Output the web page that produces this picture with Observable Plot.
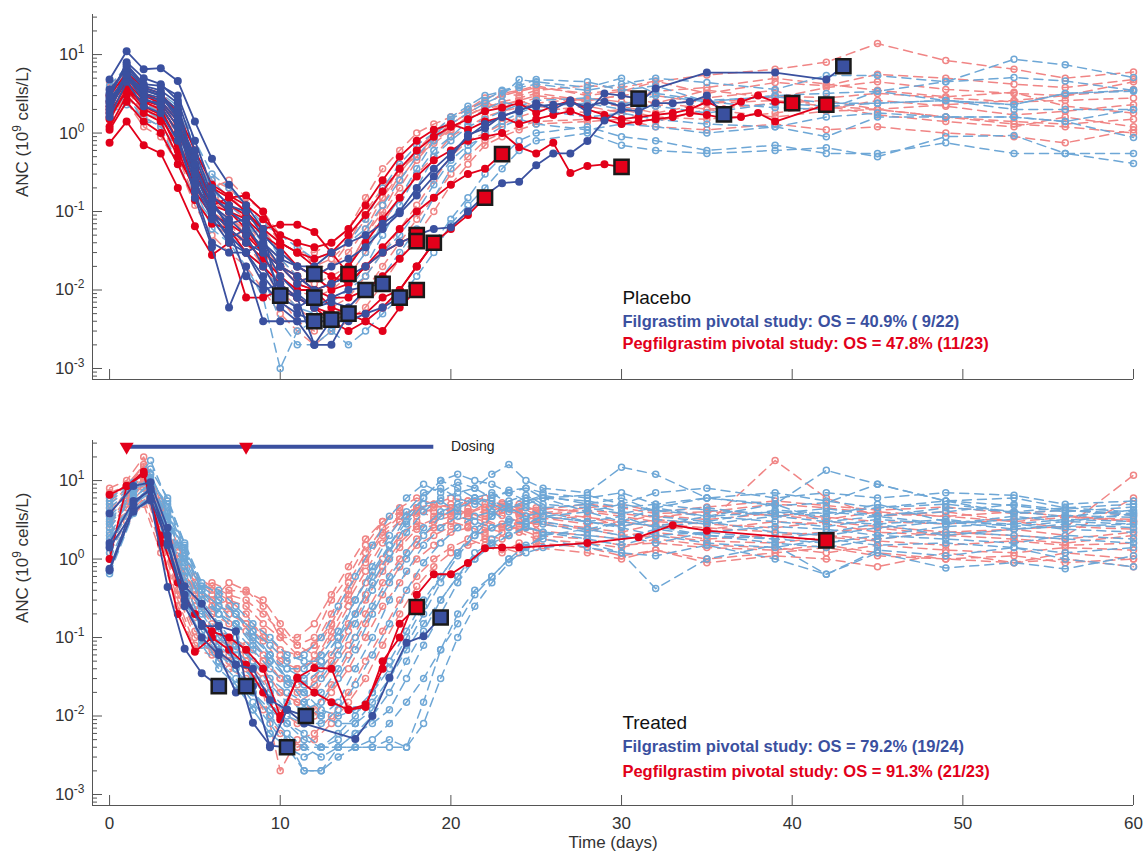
<!DOCTYPE html>
<html>
<head>
<meta charset="utf-8">
<script src="https://cdn.jsdelivr.net/npm/d3@7"></script>
<script src="https://cdn.jsdelivr.net/npm/@observablehq/plot@0.6"></script>
<style>
  html, body { margin: 0; padding: 0; background: #fff; overflow: hidden; }
  #chart svg { display: block; }
</style>
</head>
<body>
<div id="chart"></div>
<script>
// ---------------- DATA ----------------
// Axis settings / tick labels
const xDomain = [-1, 60];
const yDomain = [0.000724, 32.4];
const xTickValues = [0, 10, 20, 30, 40, 50, 60];
const yMajorTicks = [0.001, 0.01, 0.1, 1, 10];
const yAxisTitle = "ANC (10^{9} cells/L)";
const xAxisTitle = "Time (days)";

// Annotations
const placeboNotes = ["Placebo", "Filgrastim pivotal study: OS = 40.9% ( 9/22)", "Pegfilgrastim pivotal study: OS = 47.8% (11/23)"];
const treatedNotes = ["Treated", "Filgrastim pivotal study: OS = 79.2% (19/24)", "Pegfilgrastim pivotal study: OS = 91.3% (21/23)"];
const dosingLabel = ["Dosing"];
const dosingDays = [1, 8];
const dosingSpan = [1, 19];
const dosingLevel = 27;

// ---- Placebo panel ----
const placeboSurvDays = [0,1,2,3,4,5,6,7,8,9,10,11,12,13,14,15,16,17,18,19,20,21,22,23,24,25,28,30,32,35,39,42,45,49,53,56,60];
const placeboDeadDays = [0,1,2,3,4,5,6,7,8,9,10,11,12,13,14,15,16,17,18,19,20,21,22,23,24,25,26,27,28,29,30,31,32,33,34,35,36,37,38,39,40,41,42,43];

const placeboFilSurv = [
  [3.0,6.0,3.5,3.0,2.0,0.6,0.25,0.15,0.1,0.06,0.04,0.03,0.02,0.03,0.04,0.08,0.2,0.4,0.7,1.0,1.6,2.2,3.0,3.4,3.8,4.2, 3.5,4.2,5.0,4.4,3.6,5.4,5.4,4.5,8.7,7.4,5.1],
  [2.0,4.0,2.4,1.8,1.0,0.3,0.1,0.06,0.04,0.025,0.012,0.008,0.006,0.007,0.01,0.02,0.05,0.12,0.3,0.6,0.9,1.4,2.0,2.5,2.2,2.6, 2.8,2.3,3.0,2.5,2.1,2.0,3.4,2.6,2.3,3.2,3.4],
  [1.6,3.2,1.4,1.3,0.6,0.2,0.06,0.04,0.02,0.008,0.001,0.003,0.004,0.003,0.005,0.004,0.006,0.01,0.02,0.04,0.08,0.15,0.3,0.5,0.8,1.0, 1.2,0.9,0.8,0.6,0.7,0.55,0.55,0.75,0.55,0.55,0.41],
  [2.6,5.0,3.0,2.5,1.5,0.5,0.15,0.1,0.07,0.04,0.02,0.012,0.01,0.012,0.015,0.03,0.07,0.15,0.35,0.8,1.3,1.8,2.4,3.0,4.8,4.5, 3.8,5.0,3.2,2.6,2.9,2.4,2.4,2.6,2.0,2.0,2.0],
  [4.0,7.0,2.6,2.0,1.1,0.35,0.2,0.1,0.07,0.05,0.03,0.02,0.015,0.012,0.02,0.04,0.06,0.1,0.2,0.5,0.8,1.2,1.5,1.9,2.3,2.0, 1.6,1.8,1.5,1.3,1.2,1.6,1.8,1.6,1.6,1.4,0.88],
  [1.8,2.3,1.6,1.2,0.4,0.15,0.08,0.05,0.03,0.015,0.004,0.002,0.002,0.003,0.002,0.003,0.005,0.008,0.015,0.03,0.07,0.12,0.2,0.35,0.6,0.8, 1.0,0.7,0.6,0.55,0.6,0.65,0.5,0.9,0.93,0.55,0.55],
  [3.3,6.0,3.8,3.2,2.2,0.8,0.3,0.2,0.12,0.07,0.05,0.035,0.025,0.03,0.04,0.06,0.12,0.25,0.5,0.9,1.5,2.0,2.6,3.5,4.0,4.8, 4.5,3.5,4.0,2.5,3.0,3.2,3.4,4.5,5.1,4.6,3.5],
  [2.2,3.8,2.0,1.5,0.8,0.25,0.08,0.05,0.03,0.02,0.01,0.006,0.005,0.004,0.006,0.01,0.015,0.03,0.06,0.15,0.35,0.6,1.0,1.4,1.8,2.2, 2.4,2.0,2.2,1.8,2.4,2.2,2.4,2.6,2.3,3.2,3.5],
  [2.8,4.8,2.8,2.4,1.3,0.5,0.2,0.12,0.08,0.06,0.025,0.015,0.01,0.008,0.01,0.015,0.03,0.05,0.1,0.22,0.45,0.7,0.9,1.2,1.5,1.3, 1.1,1.3,1.2,1.0,1.2,0.9,1.6,1.6,1.6,1.4,2.0]
];

const placeboPegSurv = [
  [3.5,6.0,3.0,2.5,1.5,0.5,0.2,0.25,0.15,0.1,0.05,0.04,0.02,0.02,0.04,0.08,0.15,0.37,0.5,0.74,1.07,1.67,2.2,3.2,3.5,4.0, 3.0,3.4,4.5,5.5,6.5,8.0,13.8,8.4,6.5,5.0,6.0],
  [2.0,4.0,2.0,1.8,0.8,0.3,0.12,0.08,0.06,0.04,0.02,0.015,0.01,0.01,0.02,0.05,0.12,0.3,0.6,1.0,1.6,2.0,2.5,2.0,2.4,2.8, 2.6,3.0,2.4,3.5,2.8,3.8,4.5,3.6,3.2,3.0,3.6],
  [1.5,3.0,1.6,1.2,0.5,0.15,0.07,0.05,0.04,0.02,0.008,0.004,0.003,0.004,0.005,0.01,0.02,0.04,0.08,0.15,0.3,0.5,0.8,1.0,1.2,1.4, 1.5,1.8,1.4,2.0,1.6,1.9,2.0,1.6,1.4,1.3,1.5],
  [2.8,5.5,2.5,2.0,1.1,0.4,0.15,0.12,0.08,0.05,0.03,0.02,0.02,0.025,0.04,0.1,0.2,0.35,0.5,0.8,1.2,1.5,1.9,2.2,2.6,3.0, 2.5,2.2,1.8,2.4,3.0,2.8,3.2,2.8,2.5,2.6,2.8],
  [4.5,5.0,3.5,3.0,2.0,0.6,0.25,0.2,0.12,0.08,0.04,0.03,0.03,0.04,0.06,0.15,0.35,0.6,1.0,1.3,1.6,2.0,2.8,3.2,3.0,3.5, 4.0,3.8,4.6,3.2,4.4,4.0,5.6,5.0,4.2,3.8,4.8],
  [1.2,2.5,1.2,0.9,0.4,0.12,0.05,0.03,0.02,0.01,0.005,0.003,0.002,0.003,0.004,0.006,0.012,0.025,0.05,0.1,0.22,0.4,0.7,0.9,1.1,1.3, 1.4,1.5,1.2,1.1,1.3,1.1,1.2,1.0,0.9,0.75,1.1],
  [2.4,4.5,2.2,2.0,1.0,0.35,0.1,0.07,0.04,0.03,0.015,0.01,0.008,0.01,0.015,0.03,0.07,0.15,0.3,0.5,0.9,1.2,1.6,1.9,2.1,2.4, 2.8,2.5,2.2,2.8,3.5,2.0,2.6,2.2,1.7,1.9,2.3],
  [3.0,5.0,2.8,2.4,1.6,0.45,0.18,0.1,0.07,0.04,0.025,0.015,0.012,0.015,0.02,0.04,0.09,0.2,0.45,0.8,1.1,1.5,2.0,2.3,2.6,2.2, 1.8,2.0,1.6,1.5,1.8,2.2,1.7,1.4,1.2,1.6,1.2],
  [1.8,3.5,1.8,1.5,0.7,0.2,0.08,0.06,0.03,0.02,0.01,0.006,0.004,0.006,0.008,0.015,0.03,0.06,0.12,0.25,0.5,0.8,1.0,1.3,1.6,1.9, 2.2,1.8,2.5,2.0,2.4,2.6,2.0,2.3,2.6,3.0,4.5],
  [2.2,4.2,2.4,1.9,1.2,0.3,0.14,0.09,0.05,0.035,0.02,0.012,0.01,0.012,0.02,0.05,0.1,0.25,0.5,0.9,1.3,1.8,2.4,3.0,3.4,3.8, 3.2,3.6,3.0,2.4,2.6,2.2,2.0,1.6,1.3,1.2,1.0],
  [3.8,5.5,3.2,2.8,1.8,0.5,0.2,0.16,0.1,0.06,0.03,0.02,0.015,0.02,0.03,0.06,0.15,0.3,0.6,1.0,1.4,1.7,2.1,2.5,2.8,3.2, 2.6,3.0,3.4,3.8,5.0,4.2,3.5,2.9,3.3,2.2,1.8]
];

const placeboFilDead = [
  [3.2,7.0,4.0,3.5,2.4,0.35,0.12,0.08,0.05,0.02,0.0085],
  [2.2,5.5,3.0,2.6,1.4,0.25,0.09,0.05,0.03,0.04,0.02,0.012,0.016],
  [1.6,4.5,2.2,1.8,0.8,0.18,0.04,0.03,0.03,0.015,0.008,0.006,0.008],
  [4.8,11,6.5,6.7,4.6,1.4,0.47,0.22,0.12,0.06,0.006,0.004,0.004],
  [2.8,8.0,5.0,4.2,2.6,0.6,0.16,0.1,0.07,0.03,0.01,0.008,0.002,0.0042],
  [1.8,6.0,2.8,2.2,1.0,0.15,0.035,0.006,0.02,0.004,0.004,0.004,0.002,0.002,0.005],
  [2.0,5.0,3.5,3.0,2.0,0.3,0.1,0.045,0.06,0.035,0.015,0.009,0.006,0.007,0.006,0.010],
  [3.6,6.5,3.8,3.2,1.6,0.5,0.14,0.06,0.015,0.01,0.012,0.008,0.006,0.008,0.01,0.011,0.012],
  [2.5,5.2,2.6,2.4,1.2,0.22,0.08,0.04,0.03,0.012,0.007,0.005,0.004,0.004,0.004,0.005,0.006,0.008],
  [2.4,5.8,3.2,2.8,1.8,0.4,0.12,0.07,0.08,0.04,0.025,0.02,0.015,0.02,0.025,0.035,0.06,0.095,0.16,0.28,0.49,0.95,1.15,1.67,1.9,2.4,2.0,2.6,1.85,3.2,3.0,2.75],
  [2.6,5.5,3.6,3.0,1.5,0.3,0.1,0.06,0.04,0.03,0.02,0.015,0.01,0.012,0.015,0.02,0.03,0.04,0.05,0.06,0.063,0.1,0.16,0.23,0.24,0.39,0.55,0.55,0.79,1.45,2.0,1.9,2.4,2.4,2.5,3.0,1.73],
  [3.0,7.5,4.2,4.0,3.0,0.8,0.2,0.12,0.1,0.05,0.03,0.02,0.02,0.03,0.04,0.05,0.07,0.1,0.2,0.35,0.55,0.9,1.3,1.6,2.0,2.2,2.3,2.4,2.2,2.5,2.2,2.4,3.7,null,null,5.9,null,null,null,5.9,null,null,4.8,7.1]
];

const placeboPegDead = [
  [1.2,3.0,1.8,1.4,0.5,0.2,0.12,0.15,0.1,0.06,0.068,0.068,0.055,0.03,0.016],
  [0.75,1.4,0.7,0.55,0.2,0.065,0.028,0.04,0.008,0.008,0.01,0.008,0.006,0.005,0.005,0.004,0.003,0.006,0.01],
  [1.5,3.5,2.5,2.0,0.8,0.25,0.2,0.15,0.16,0.1,0.04,0.03,0.02,0.015,0.012,0.02,0.03,0.04,0.05],
  [2.0,5.0,3.0,2.4,1.2,0.3,0.12,0.1,0.06,0.03,0.02,0.012,0.01,0.008,0.008,0.01,0.015,0.025,0.042],
  [1.1,2.5,1.4,1.0,0.4,0.14,0.07,0.06,0.03,0.02,0.012,0.008,0.006,0.004,0.003,0.004,0.006,0.01,0.02,0.04],
  [1.8,4.0,2.2,1.7,0.6,0.18,0.09,0.07,0.05,0.03,0.02,0.015,0.01,0.006,0.005,0.005,0.008,0.01,0.02,0.04,0.06,0.09,0.15],
  [2.5,5.5,3.2,2.6,1.4,0.4,0.15,0.1,0.08,0.05,0.035,0.02,0.015,0.01,0.012,0.02,0.035,0.06,0.1,0.15,0.22,0.3,0.35,0.54],
  [1.6,3.6,2.0,1.6,0.7,0.22,0.1,0.06,0.04,0.025,0.015,0.01,0.01,0.012,0.02,0.04,0.08,0.15,0.28,0.45,0.6,0.8,0.9,1.0,0.66,0.55,0.75,0.31,0.38,0.4,0.37],
  [2.2,4.5,2.6,2.2,1.0,0.35,0.15,0.12,0.09,0.06,0.04,0.03,0.025,0.03,0.05,0.09,0.18,0.35,0.6,0.9,1.2,1.5,1.9,2.1,2.4,1.8,2.2,2.6,2.0,1.7,1.5,1.6,1.7,1.8,2.0,2.5,2.0,2.5,3.0,2.5,2.4],
  [3.0,5.8,3.8,3.2,1.8,0.6,0.22,0.16,0.12,0.08,0.05,0.04,0.035,0.04,0.06,0.12,0.25,0.5,0.8,1.1,1.3,1.1,1.4,1.6,1.3,1.5,1.7,1.9,1.6,1.5,1.3,1.4,1.5,1.6,1.8,1.7,1.55,1.6,1.8,1.4,null,null,2.3]
];

// ---- Treated panel ----
const treatedFilSurvDays = [0,1.4,2.4,3.4,4.4,5.4,6.4,7.4,8.4,9.4,10.4,11.4,12.4,13.4,14.4,15.4,16.4,17.4,18.4,19.4,20.4,21.4,22.4,23.4,24.4,25.4,28,30,32,35,39,42,45,49,53,56,60];
const treatedPegSurvDays = [0,1,2,3,4,5,6,7,8,9,10,11,12,13,14,15,16,17,18,19,20,21,22,23,24,25,28,30,32,35,39,42,45,49,53,56,60];

const treatedFilSurv = [
  [4.5,8.0,12,4.0,1.2,0.4,0.25,0.15,0.08,0.05,0.04,0.03,0.05,0.1,0.3,0.7,1.5,3.0,6.0,10,8.0,6.0,7.0,5.0,6.0,4.5, 5.0,4.0,3.5,3.0,4.2,3.8,4.5,5.5,3.8,4.2,3.6],
  [2.5,6.0,9.0,3.0,0.8,0.3,0.15,0.08,0.05,0.03,0.02,0.015,0.02,0.04,0.1,0.25,0.6,1.2,2.5,4.0,5.0,6.0,5.5,4.5,5.0,6.0, 4.0,5.0,4.2,3.5,4.0,3.5,5.0,3.0,2.8,3.2,3.0],
  [5.5,9.0,18,5.5,1.6,0.5,0.35,0.2,0.12,0.08,0.05,0.06,0.1,0.25,0.6,1.5,3.5,6.0,9.0,7.0,9.5,8.0,12,16,10,8.0, 7.0,14.8,12,6.0,5.0,13.5,9.0,5.5,6.0,4.5,5.0],
  [1.2,4.5,6.0,2.0,0.5,0.15,0.08,0.05,0.02,0.012,0.008,0.005,0.004,0.006,0.01,0.02,0.05,0.12,0.3,0.6,1.2,2.0,2.5,3.0,2.8,3.5, 3.0,2.5,2.0,2.2,2.6,2.4,2.0,2.6,2.8,2.4,2.2],
  [0.7,4.0,5.5,1.8,0.3,0.1,0.05,0.03,0.015,0.008,0.004,0.002,0.002,0.003,0.004,0.004,0.004,0.004,0.015,0.07,0.2,0.4,0.6,1.0,1.2,1.4, 1.6,1.2,0.42,1.0,1.5,0.64,1.2,0.77,0.9,0.75,1.1],
  [3.5,7.0,10,3.5,1.0,0.35,0.2,0.12,0.07,0.04,0.025,0.02,0.03,0.06,0.15,0.4,1.0,2.2,4.0,6.0,7.0,8.0,6.0,7.5,8.0,6.0, 6.5,5.0,7.0,8.0,6.0,7.0,6.0,7.0,6.5,5.0,5.5],
  [2.0,5.0,7.5,2.5,0.6,0.2,0.1,0.06,0.03,0.02,0.01,0.008,0.008,0.012,0.025,0.06,0.15,0.4,0.9,1.6,2.5,3.5,4.0,3.0,3.5,2.8, 2.2,3.0,2.6,2.0,1.8,2.2,2.8,2.0,2.4,2.6,2.8],
  [1.5,5.5,8.0,2.2,0.45,0.12,0.06,0.04,0.02,0.01,0.006,0.004,0.004,0.005,0.008,0.015,0.03,0.07,0.15,0.3,0.6,1.0,1.5,2.0,2.5,2.2, 1.8,1.5,2.0,1.6,1.4,1.8,1.5,1.6,1.4,1.2,1.4],
  [6.0,9.5,14,6.0,1.5,0.45,0.3,0.2,0.1,0.06,0.04,0.04,0.06,0.12,0.3,0.8,2.0,4.0,7.0,8.0,6.0,5.0,6.5,7.0,5.5,6.5, 5.0,6.0,4.0,4.5,3.5,4.0,3.5,4.5,4.0,3.5,4.2],
  [3.0,6.5,9.0,3.2,0.9,0.25,0.12,0.1,0.05,0.025,0.015,0.012,0.015,0.03,0.07,0.2,0.5,1.0,2.0,3.5,4.5,5.5,4.0,4.5,3.5,4.0, 3.0,3.5,2.5,3.0,2.2,2.0,2.5,3.0,2.4,2.8,2.5],
  [1.0,4.2,6.5,1.6,0.35,0.08,0.04,0.025,0.012,0.006,0.004,0.003,0.004,0.004,0.004,0.005,0.008,0.015,0.03,0.07,0.15,0.35,0.6,1.0,1.5,1.8, 1.4,1.2,1.1,1.5,1.0,0.64,1.3,1.1,1.4,1.0,0.8],
  [4.0,7.5,11,4.5,1.3,0.4,0.2,0.15,0.1,0.06,0.03,0.025,0.04,0.08,0.2,0.5,1.2,2.8,5.0,5.5,4.0,6.0,5.0,4.0,4.5,3.5, 4.0,3.0,4.5,3.5,5.0,3.0,3.5,2.8,3.2,3.6,3.4],
  [2.2,5.0,8.5,2.8,0.7,0.22,0.1,0.07,0.04,0.02,0.012,0.01,0.01,0.015,0.04,0.1,0.3,0.7,1.5,2.5,3.5,3.0,2.5,3.2,2.8,3.0, 2.4,2.0,1.6,2.2,1.8,1.6,2.0,1.8,1.6,2.0,1.8],
  [5.0,8.5,10,5.0,1.4,0.45,0.4,0.25,0.15,0.1,0.06,0.05,0.05,0.1,0.2,0.6,1.5,3.5,6.0,10,12,10,9.0,7.0,8.0,7.0, 6.0,7.0,5.0,6.0,7.0,5.5,4.5,5.0,4.0,4.5,4.0],
  [1.5,5.0,7.0,2.2,0.4,0.12,0.07,0.04,0.02,0.01,0.005,0.002,0.002,0.004,0.004,0.004,0.005,0.004,0.008,0.03,0.1,0.25,0.5,0.9,1.4,2.0, 2.4,3.0,2.6,3.5,3.0,2.6,3.2,2.8,3.5,3.0,3.8],
  [2.8,6.0,9.0,3.5,0.9,0.3,0.2,0.15,0.09,0.05,0.03,0.015,0.01,0.008,0.008,0.012,0.03,0.08,0.2,0.5,1.1,2.0,3.5,5.5,6.5,5.0, 4.5,3.8,4.5,6.0,4.8,5.2,9.0,5.5,4.8,4.0,4.6],
  [1.8,5.0,7.0,2.4,0.5,0.15,0.08,0.05,0.03,0.015,0.008,0.006,0.004,0.004,0.006,0.008,0.012,0.03,0.08,0.2,0.5,1.0,1.8,2.5,3.0,3.5, 3.0,2.6,3.2,2.8,3.5,3.0,2.8,3.2,2.6,3.0,2.8],
  [3.2,6.5,12,3.8,1.1,0.4,0.25,0.2,0.12,0.06,0.03,0.02,0.012,0.01,0.012,0.02,0.04,0.1,0.25,0.6,1.2,2.4,3.5,4.5,5.5,6.0, 5.5,4.5,5.0,4.2,3.8,4.4,3.6,4.0,5.0,4.2,3.8],
  [0.65,3.8,6.0,1.4,0.28,0.09,0.05,0.025,0.012,0.006,0.004,0.004,0.003,0.004,0.006,0.01,0.02,0.05,0.12,0.3,0.6,1.2,1.6,2.0,2.6,2.2, 2.0,1.8,2.4,2.0,1.6,1.4,1.8,2.2,2.0,1.8,1.6]
];

const treatedPegSurv = [
  [8.0,10,20,5.0,1.0,0.4,0.5,0.4,0.38,0.3,0.15,0.08,0.1,0.3,0.6,1.5,3.0,4.5,6.0,5.0,6.0,5.5,4.5,5.0,4.0,4.5, 4.0,3.5,3.0,2.8,18,6.0,3.5,4.0,3.0,2.5,11.7],
  [4.0,7.0,12,3.0,0.6,0.2,0.25,0.3,0.2,0.1,0.06,0.04,0.05,0.1,0.25,0.5,1.0,2.0,3.0,2.5,3.0,3.5,3.0,2.5,3.0,2.8, 2.4,2.0,2.2,1.8,2.0,2.2,2.5,2.0,1.8,1.6,2.0],
  [2.5,5.0,9.0,2.0,0.4,0.12,0.1,0.08,0.06,0.04,0.02,0.015,0.02,0.04,0.08,0.2,0.5,1.0,1.8,2.5,3.0,2.6,2.2,2.8,2.4,2.0, 1.8,1.5,1.6,1.4,1.3,1.5,1.2,1.0,1.1,0.9,1.0],
  [6.0,9.0,15,4.0,0.8,0.3,0.35,0.25,0.15,0.12,0.07,0.06,0.08,0.15,0.4,1.0,2.2,3.5,4.5,5.0,4.0,5.5,6.0,4.5,5.0,4.2, 5.0,4.5,3.8,4.0,5.0,4.5,3.8,3.5,4.0,3.5,3.0],
  [1.5,3.5,6.0,1.5,0.3,0.08,0.07,0.05,0.04,0.02,0.002,0.005,0.006,0.01,0.02,0.05,0.12,0.3,0.6,1.0,1.4,1.8,1.5,1.2,1.6,1.4, 1.2,1.0,1.3,0.9,1.1,1.0,0.8,1.2,0.9,1.0,0.8],
  [3.0,6.0,11,2.8,0.7,0.25,0.2,0.15,0.12,0.06,0.03,0.025,0.03,0.06,0.15,0.35,0.8,1.6,2.6,3.2,4.0,3.5,4.2,3.6,3.0,3.4, 2.8,3.0,2.6,2.4,3.0,2.8,2.2,2.0,2.4,2.6,2.4],
  [5.0,8.0,13,3.5,1.2,0.5,0.4,0.3,0.25,0.15,0.1,0.1,0.15,0.35,0.8,1.8,3.0,4.0,3.5,4.5,5.0,4.0,3.5,4.2,3.8,3.2, 3.5,2.6,3.2,2.8,2.5,3.0,2.6,2.2,2.0,1.8,2.2],
  [2.0,4.5,8.0,1.8,0.35,0.1,0.08,0.06,0.05,0.03,0.012,0.008,0.01,0.02,0.04,0.1,0.25,0.5,1.0,1.5,2.2,2.5,2.0,1.8,2.2,1.8, 1.6,1.4,1.8,1.5,1.4,1.2,1.5,1.3,1.2,1.4,1.3],
  [3.5,7.5,10,3.0,0.9,0.3,0.15,0.1,0.08,0.05,0.03,0.02,0.025,0.05,0.12,0.3,0.7,1.4,2.4,3.0,3.5,4.0,3.2,2.6,2.8,3.0, 2.5,2.2,2.8,2.5,2.2,2.0,1.8,2.2,2.4,2.0,6.0],
  [7.0,8.5,16,5.5,1.5,0.6,0.45,0.35,0.3,0.2,0.12,0.08,0.06,0.15,0.35,0.9,2.0,3.0,4.0,3.5,4.5,3.8,5.0,4.2,3.6,4.0, 3.4,3.0,3.6,3.2,3.8,3.4,3.0,2.8,3.2,3.6,3.0],
  [1.2,3.0,5.0,1.2,0.25,0.07,0.06,0.04,0.03,0.012,0.006,0.004,0.005,0.008,0.015,0.03,0.08,0.2,0.45,0.8,1.2,1.5,1.8,1.4,1.2,1.6, 1.4,1.1,1.3,1.0,1.2,1.4,1.1,1.0,0.9,1.2,1.0],
  [4.5,6.5,12,4.5,1.0,0.35,0.3,0.5,0.4,0.25,0.1,0.06,0.08,0.2,0.5,1.2,2.5,3.5,4.5,4.0,3.6,4.4,3.8,4.6,4.0,3.6, 4.2,3.8,3.4,4.0,3.6,3.2,4.0,3.5,3.0,3.4,3.2],
  [2.8,5.5,9.5,2.4,0.5,0.18,0.12,0.09,0.07,0.04,0.02,0.015,0.012,0.025,0.06,0.15,0.35,0.8,1.5,2.0,2.6,3.0,2.5,2.2,2.6,2.3, 2.0,1.8,2.0,1.7,1.6,1.9,1.7,1.5,1.7,1.5,1.6],
  [5.5,9.0,14,3.8,0.9,0.4,0.3,0.2,0.15,0.09,0.05,0.04,0.05,0.12,0.3,0.7,1.6,3.0,4.2,5.0,4.5,3.8,4.6,5.2,4.4,3.8, 4.5,5.0,4.0,4.6,5.5,4.8,4.2,4.6,3.8,4.2,3.6]
];

const treatedFilDeadDays = [
  [0,1.4,2.4,3.4,4.4,5.4,6.4],
  [0,1.4,2.4,3.4,4.4,5.4,6.4,7.4,8.0],
  [0,1.4,2.4,3.4,4.4,5.4,6.4,7.4,8.4,9.4,10.4],
  [0,1.4,2.4,3.4,4.4,5.4,6.4,7.4,8.4,9.4,10.4,11.5],
  [0,1.4,2.4,3.4,4.4,5.4,6.4,7.4,8.4,9.4,10.4,11.4,14.4,15.4,16.4,17.4,18.4,19.4]
];
const treatedFilDead = [
  [0.72,4.2,5.6,0.44,0.072,0.035,0.024],
  [1.6,5.5,7.5,2.0,0.45,0.27,0.14,0.12,0.024],
  [1.4,4.0,6.0,1.6,0.3,0.15,0.065,0.045,0.0082,0.0042,0.004],
  [3.8,8.5,9.5,2.5,0.35,0.14,0.14,0.045,0.04,0.016,0.012,0.01],
  [0.75,5.0,8.0,1.5,0.25,0.1,0.06,0.02,0.024,0.004,0.012,0.008,0.0051,0.01,0.031,0.086,0.104,0.18]
];
const treatedPegDeadDays = [
  [0,1,2,3,4,5,6,7,8,9,10,11,12,13,14,15,16,17,18],
  [0,1,2,3,4,5,6,7,8,9,10,11,12,13,14,15,16,17,18,19,20,21,22,23,24,28,31,33,35,42]
];
const treatedPegDead = [
  [1.0,8.5,13,1.6,0.2,0.066,0.1,0.07,0.045,0.02,0.009,0.031,0.041,0.04,0.012,0.014,0.04,0.15,0.245],
  [6.6,8.5,12,2.0,0.5,0.2,0.12,0.1,0.07,0.04,0.01,0.03,0.02,0.015,0.012,0.013,0.05,0.1,0.35,0.64,0.64,0.89,1.37,1.4,1.4,1.6,1.9,2.7,2.3,1.73]
];

// ---------------- STYLE ----------------
const darkBlue = "#3a509f";
const red = "#e2001a";
const lightBlue = "#6ea7d6";
const lightRed = "#f08585";
const axisColor = "#555";
const fontFamily = "'Liberation Sans', Arial, Helvetica, sans-serif";

// ---------------- HELPERS ----------------
function gridRows(days, series, tag) {
  const rows = [];
  series.forEach((vals, i) => vals.forEach((v, j) => {
    if (v !== null && v !== undefined) rows.push({id: tag + i, day: days[j], anc: v});
  }));
  return rows;
}
function pairedRows(daysList, series, tag) {
  const rows = [];
  series.forEach((vals, i) => vals.forEach((v, j) => {
    if (v !== null && v !== undefined) rows.push({id: tag + i, day: daysList[i][j], anc: v});
  }));
  return rows;
}
function lastOf(rows) {
  return Array.from(d3.group(rows, d => d.id).values(), g => g[g.length - 1]);
}
const yMinorTicks = [];
for (const m of yMajorTicks.concat([0.0001])) {
  for (let k = 2; k <= 9; k++) {
    const v = m * k;
    if (v > yDomain[0] && v < yDomain[1]) yMinorTicks.push(v);
  }
}

function applySup(svg, baseSize) {
  d3.select(svg).selectAll("text").each(function() {
    const t = this.textContent;
    if (!t.includes("^{")) return;
    const parts = t.split(/\^\{([^}]*)\}/);
    const sel = d3.select(this);
    sel.text(null);
    const up = Math.round(baseSize * 0.42);
    let raised = false;
    parts.forEach((p, i) => {
      if (!p) return;
      const span = sel.append("tspan").text(p);
      if (i % 2 === 1) {
        span.attr("dy", -up).attr("font-size", Math.round(baseSize * 0.7));
        raised = true;
      } else if (raised) {
        span.attr("dy", up);
        raised = false;
      }
    });
  });
}

function panel(cfg) {
  const W = 1144, mL = 92, mR = 11;
  const {height, marginTop, marginBottom, filSurv, pegSurv, filDead, pegDead, notes, notesY, showX, dosing} = cfg;
  const pxPerDay = (W - mL - mR) / (xDomain[1] - xDomain[0]);
  const pxPerDec = (height - marginTop - marginBottom) / Math.log10(yDomain[1] / yDomain[0]);
  const dxDays = px => px / pxPerDay;
  const yFactor = px => Math.pow(10, px / pxPerDec);
  const annotX = 30.05;

  const marks = [
    Plot.ruleX([xDomain[0]], {stroke: axisColor, strokeWidth: 1}),
    Plot.ruleY([yDomain[0]], {stroke: axisColor, strokeWidth: 1}),
    Plot.ruleY(yMinorTicks, {y: d => d, x1: xDomain[0], x2: xDomain[0] + dxDays(5), stroke: axisColor}),
    Plot.ruleY(yMajorTicks, {y: d => d, x1: xDomain[0], x2: xDomain[0] + dxDays(10), stroke: axisColor}),
    Plot.ruleX(xTickValues, {x: d => d, y1: yDomain[0], y2: yDomain[0] * yFactor(10), stroke: axisColor}),
    Plot.axisY({ticks: yMajorTicks, tickSize: 0, tickPadding: 8, label: null,
      tickFormat: d => `10^{${Math.round(Math.log10(d))}}`}),
    Plot.text([yAxisTitle], {text: d => d, frameAnchor: "left", dx: -70, rotate: -90, fontSize: 17, fill: "#333"}),

    // survivors (dashed, open circles)
    Plot.line(pegSurv, {x: "day", y: "anc", z: "id", stroke: lightRed, strokeWidth: 1.5, strokeDasharray: "9,6"}),
    Plot.dot(pegSurv, {x: "day", y: "anc", r: 3, stroke: lightRed, strokeWidth: 1.5, fill: "none"}),
    Plot.line(filSurv, {x: "day", y: "anc", z: "id", stroke: lightBlue, strokeWidth: 1.5, strokeDasharray: "9,6"}),
    Plot.dot(filSurv, {x: "day", y: "anc", r: 3, stroke: lightBlue, strokeWidth: 1.5, fill: "none"}),

    // non-survivors (solid, filled circles)
    Plot.line(pegDead, {x: "day", y: "anc", z: "id", stroke: red, strokeWidth: 1.8}),
    Plot.dot(pegDead, {x: "day", y: "anc", r: 4, fill: red}),
    Plot.line(filDead, {x: "day", y: "anc", z: "id", stroke: darkBlue, strokeWidth: 1.8}),
    Plot.dot(filDead, {x: "day", y: "anc", r: 4, fill: darkBlue}),

    // time of death squares
    Plot.dot(lastOf(pegDead), {x: "day", y: "anc", symbol: "square", r: 8, fill: red, stroke: "#1a1a1a", strokeWidth: 2.5}),
    Plot.dot(lastOf(filDead), {x: "day", y: "anc", symbol: "square", r: 8, fill: darkBlue, stroke: "#1a1a1a", strokeWidth: 2.5}),

    // annotations
    Plot.text([notes[0]], {text: d => d, x: annotX, y: notesY[0], textAnchor: "start", fontSize: 19, fill: "#111"}),
    Plot.text([notes[1]], {text: d => d, x: annotX, y: notesY[1], textAnchor: "start", fontSize: 16.5, fontWeight: "bold", fill: darkBlue}),
    Plot.text([notes[2]], {text: d => d, x: annotX, y: notesY[2], textAnchor: "start", fontSize: 16.5, fontWeight: "bold", fill: red})
  ];

  if (dosing) {
    marks.push(
      Plot.ruleY([dosingLevel], {x1: dosingSpan[0], x2: dosingSpan[1], stroke: darkBlue, strokeWidth: 4}),
      Plot.dot(dosingDays, {x: d => d, y: dosingLevel, symbol: "triangle", rotate: 180, r: 5.2, fill: red}),
      Plot.text(dosingLabel, {text: d => d, x: 20.0, y: dosingLevel, textAnchor: "start", fontSize: 14, fill: "#222"})
    );
  }
  if (showX) {
    marks.push(
      Plot.axisX({ticks: xTickValues, tickSize: 0, tickPadding: 11, label: null, tickFormat: d => String(d)}),
      Plot.text([xAxisTitle], {text: d => d, frameAnchor: "bottom", dy: 42, fontSize: 17, fill: "#333"})
    );
  }

  const svg = Plot.plot({
    width: W, height, marginLeft: mL, marginRight: mR, marginTop, marginBottom,
    x: {domain: xDomain, axis: showX ? undefined : null},
    y: {type: "log", domain: yDomain},
    style: {fontFamily, fontSize: "17px", color: "#333", background: "#fff", overflow: "visible"},
    marks
  });
  applySup(svg, 17);
  return svg;
}

// ---------------- BUILD ----------------
const topSvg = panel({
  height: 420, marginTop: 14, marginBottom: 41,
  filSurv: gridRows(placeboSurvDays, placeboFilSurv, "pfs"),
  pegSurv: gridRows(placeboSurvDays, placeboPegSurv, "pps"),
  filDead: gridRows(placeboDeadDays, placeboFilDead, "pfd"),
  pegDead: gridRows(placeboDeadDays, placeboPegDead, "ppd"),
  notes: placeboNotes, notesY: [0.0079, 0.0039, 0.00205],
  showX: false, dosing: false
});
const botSvg = panel({
  height: 436, marginTop: 20, marginBottom: 51,
  filSurv: gridRows(treatedFilSurvDays, treatedFilSurv, "tfs"),
  pegSurv: gridRows(treatedPegSurvDays, treatedPegSurv, "tps"),
  filDead: pairedRows(treatedFilDeadDays, treatedFilDead, "tfd"),
  pegDead: pairedRows(treatedPegDeadDays, treatedPegDead, "tpd"),
  notes: treatedNotes, notesY: [0.00815, 0.00403, 0.00194],
  showX: true, dosing: true
});
document.getElementById("chart").append(topSvg, botSvg);
</script>
</body>
</html>
